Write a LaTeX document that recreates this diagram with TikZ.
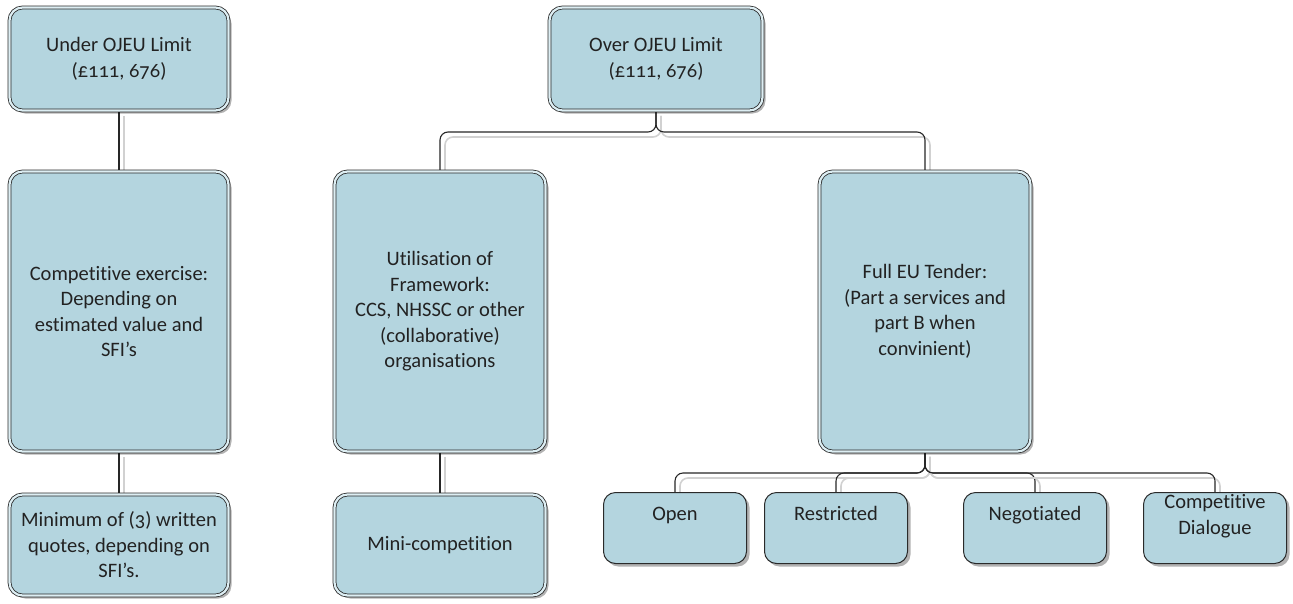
\documentclass[tikz,border=0pt]{standalone}
\usepackage{fontspec}
\setmainfont{Carlito}[Numbers=OldStyle, Ligatures=NoCommon]
\usetikzlibrary{shadows,backgrounds}

\definecolor{boxfill}{HTML}{B4D5DF}
\definecolor{boxband}{HTML}{DDEEF3}
\definecolor{boxline}{HTML}{2A2A2A}
\definecolor{txt}{HTML}{222222}

\tikzset{
  lbl/.style={text=txt, align=center, inner sep=0pt,
    font=\fontsize{20.5}{25.5}\selectfont},
  base/.style={rectangle, rounded corners=13pt, fill=boxfill, lbl, inner sep=2pt,
    drop shadow={shadow xshift=3pt, shadow yshift=-3pt, opacity=0.3, fill=black}},
  bigbox/.style={base, draw=boxline, line width=0.8pt, double=boxband,
    double distance=2.2pt},
  smallbox/.style={base, draw=boxline, line width=1pt, rounded corners=12pt,
    minimum width=143pt, minimum height=71pt},
  link/.style={draw=black!85, line width=1.1pt, rounded corners=8pt,
    preaction={draw=black!18, line width=1.6pt,
      transform canvas={xshift=5pt, yshift=-5pt}}}
}

\begin{document}
\begin{tikzpicture}[x=1pt, y=-1pt]
\useasboundingbox (0,0) rectangle (1293,603);

% left column: under the limit
\node[bigbox, minimum width=219pt, minimum height=103pt] (under) at (119,59)
  {Under OJEU Limit\\(£111, 676)};
\node[bigbox, minimum width=219pt, minimum height=280pt] (compex) at (119,311.5)
  {Competitive exercise:\\Depending on\\estimated value and\\SFI's};
\node[bigbox, minimum width=219pt, minimum height=101pt] (quotes) at (119,545)
  {Minimum of (3) written\\quotes, depending on\\SFI's.};

% over the limit
\node[bigbox, minimum width=213pt, minimum height=103pt] (over) at (656,59)
  {Over OJEU Limit\\(£111, 676)};
\node[bigbox, minimum width=211pt, minimum height=280pt] (frame) at (440,311.5)
  {Utilisation of\\Framework:\\CCS, NHSSC or other\\(collaborative)\\organisations};
\node[bigbox, minimum width=211pt, minimum height=101pt] (mini) at (440,545)
  {Mini-competition};
\node[bigbox, minimum width=211pt, minimum height=280pt] (tender) at (925,311.5)
  {Full EU Tender:\\(Part a services and\\part B when\\convinient)};

% tender procedures: boxes with their captions set near the top
\node[smallbox] (open)  at (675,528) {};
\node[smallbox] (restr) at (836,528) {};
\node[smallbox] (nego)  at (1035,528) {};
\node[smallbox] (dial)  at (1215,528) {};
\node[lbl, anchor=base] (open-t)  at (675,520) {Open};
\node[lbl, anchor=base] (restr-t) at (836,520) {Restricted};
\node[lbl, anchor=base] (nego-t)  at (1035,520) {Negotiated};
\node[lbl] (dial-t) at (1215,516) {Competitive\\Dialogue};

% bus levels of the branching connectors
\coordinate (busA) at (0,132);
\coordinate (busB) at (0,473);

\begin{scope}[on background layer]
  \draw[link] (under.south) -- (compex.north);
  \draw[link] (compex.south) -- (quotes.north);
  \draw[link] (frame.south) -- (mini.north);
  \draw[link] (over.south) -- (over.south |- busA) -- (frame.north |- busA) -- (frame.north);
  \draw[link] (over.south) -- (over.south |- busA) -- (tender.north |- busA) -- (tender.north);
  \foreach \t in {open, restr, nego, dial}
    \draw[link] (tender.south) -- (tender.south |- busB) -- (\t.north |- busB) -- (\t.north);
\end{scope}
\end{tikzpicture}
\end{document}
